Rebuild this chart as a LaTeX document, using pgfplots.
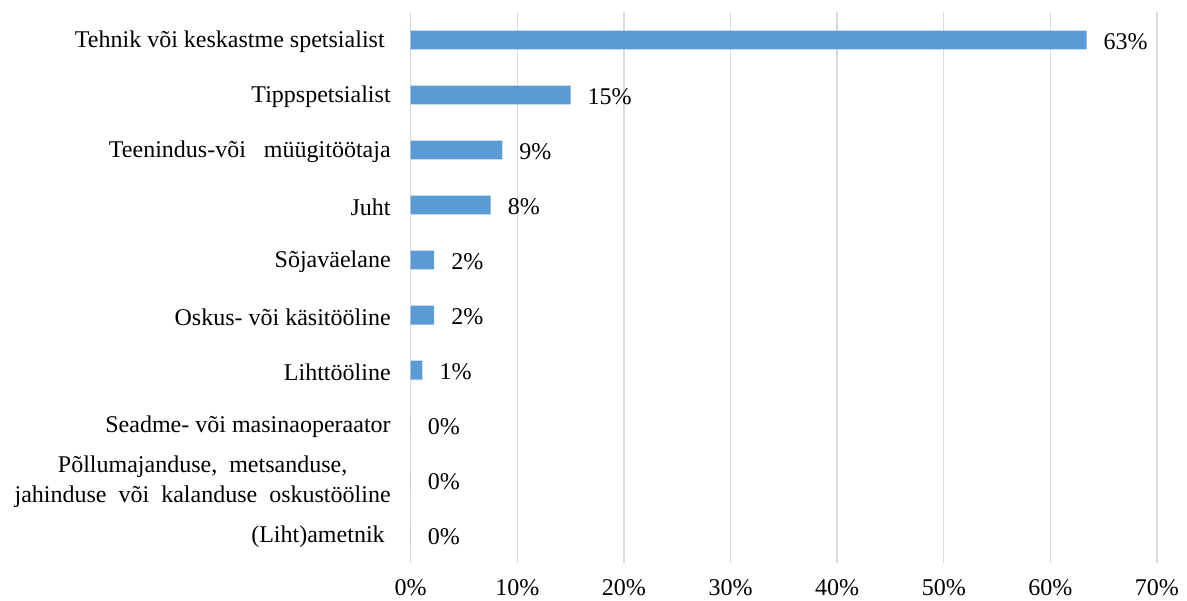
\documentclass[border=0pt]{standalone}
\usepackage{pgfplots}
\pgfplotsset{compat=1.18}
\usepackage{fontspec}
\setmainfont{Liberation Serif}
\definecolor{barblue}{HTML}{5B9BD5}
\definecolor{gridgray}{HTML}{D9D9D9}
\begin{document}
\begin{tikzpicture}
\begin{axis}[
    scale only axis,
    width=373pt, height=275pt,
    xbar, bar width=9.4pt,
    xmin=0, xmax=70,
    ymin=-0.5, ymax=9.5,
    y dir=reverse,
    xtick={0,10,...,70},
    ytick={0,...,9},
    yticklabels={
        Tehnik või keskastme spetsialist\ ,
        Tippspetsialist,
        Teenindus-või\ \ \ müügitöötaja,
        Juht,
        Sõjaväelane,
        Oskus- või käsitööline,
        Lihttööline,
        Seadme- või masinaoperaator,
        {Põllumajanduse,\ \ metsanduse,\\jahinduse\ \ või\ \ kalanduse\ \ oskustööline},
        (Liht)ametnik\ 
    },
    xticklabel={\pgfmathprintnumber{\tick}\%},
    /pgf/number format/assume math mode=true,
    font=\fontsize{12}{15}\selectfont,
    ticklabel style={font=\fontsize{12}{15}\selectfont, text=black},
    yticklabel style={align=center, xshift=-6.5pt, yshift=-1pt},
    xticklabel style={yshift=-5pt},
    axis line style={draw=none},
    major tick length=0pt,
    xmajorgrids,
    major grid style={draw=gridgray, line width=0.7pt},
    nodes near coords={\pgfmathprintnumber[fixed,precision=0]{\pgfplotspointmeta}\%},
    nodes near coords style={font=\fontsize{12}{15}\selectfont, text=black, xshift=5pt, yshift=-1pt},
    point meta=x,
]
\addplot+[fill=barblue, draw=none] coordinates {
    (63.4,0) (15.0,1) (8.6,2) (7.5,3) (2.2,4) (2.2,5) (1.1,6) (0,7) (0,8) (0,9)
};
\end{axis}
\pgfresetboundingbox
\path[use as bounding box] ([shift={(-205.3pt,-18.75pt)}]current axis.south west) rectangle ([shift={(15pt,6.25pt)}]current axis.north east);
\end{tikzpicture}
\end{document}
